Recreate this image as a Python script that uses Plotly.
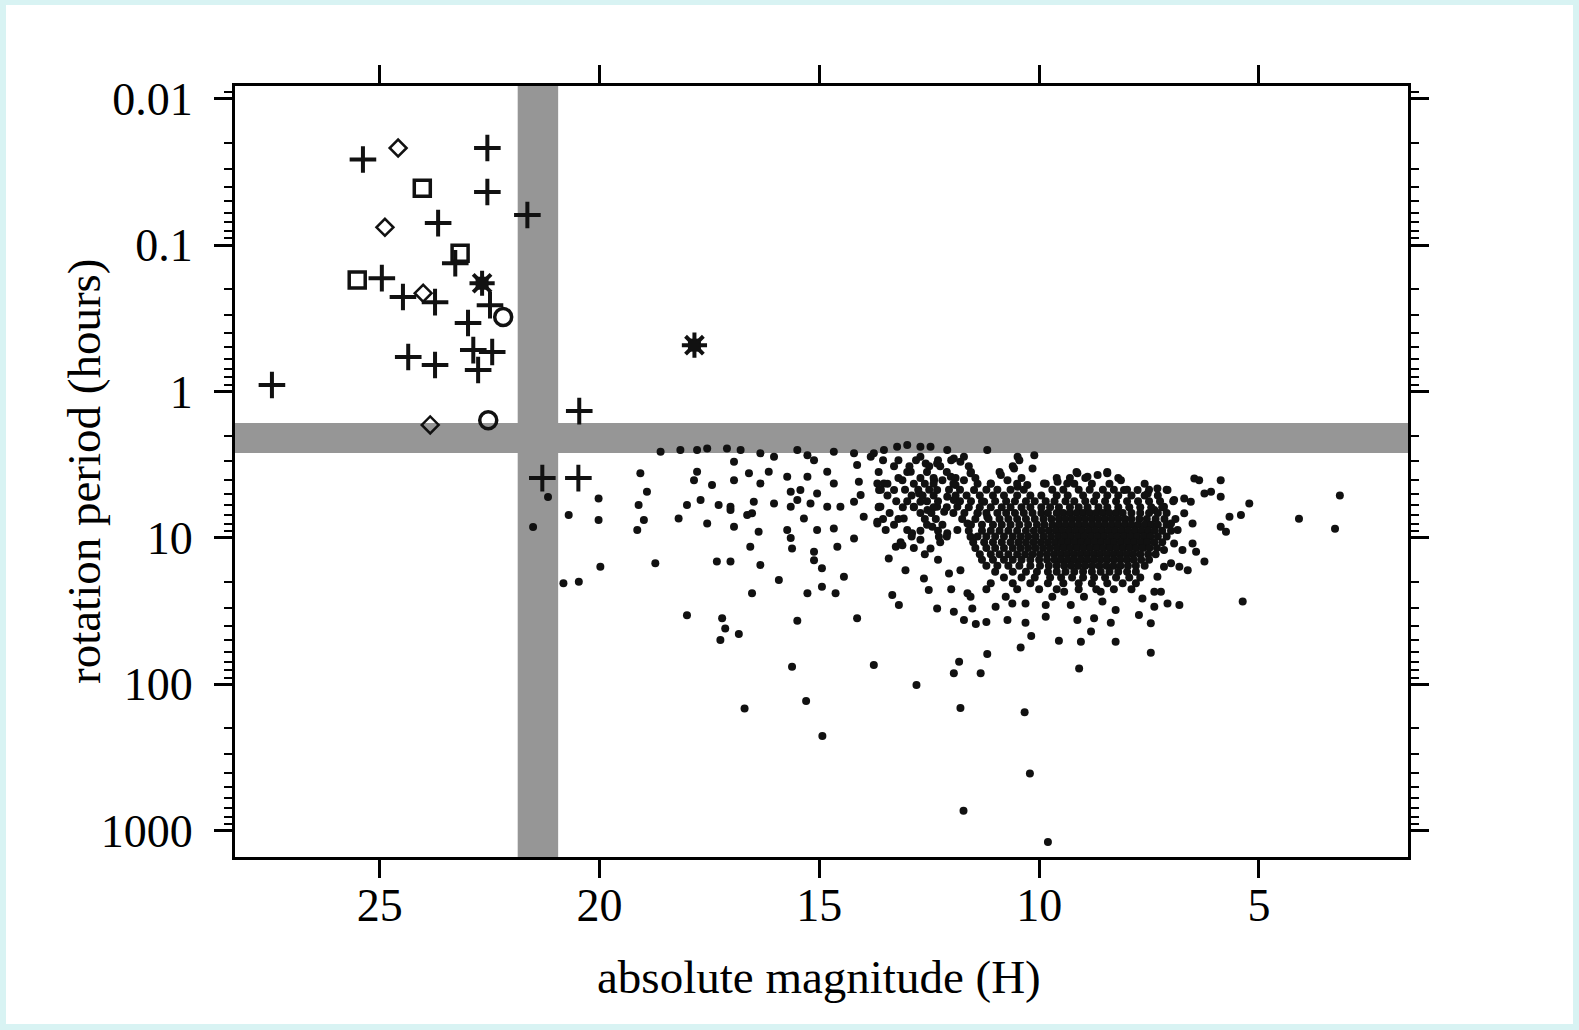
import plotly.graph_objects as go

# ---------------- data (absolute magnitude H, rotation period P in hours) ----------------
plus_H = [25.38, 22.55, 22.55, 23.67, 21.64, 23.28, 24.95, 24.47, 23.74, 22.49, 22.99,
          22.87, 22.44, 22.76, 24.35, 23.74, 27.45, 20.46, 20.48, 21.30]
plus_P = [0.026, 0.0217, 0.0434, 0.0707, 0.0622, 0.133, 0.168, 0.226, 0.245, 0.257, 0.340,
          0.521, 0.537, 0.713, 0.581, 0.659, 0.903, 1.36, 3.9, 3.9]

star_H = [22.67, 17.84]
star_P = [0.182, 0.482]

diam_H = [24.58, 24.88, 24.01, 23.85]
diam_P = [0.0217, 0.0755, 0.213, 1.69]

sq_H = [24.03, 25.51, 23.17]
sq_P = [0.0408, 0.173, 0.1135]

circ_H = [22.19, 22.53]
circ_P = [0.310, 1.57]

# scattered asteroids (H, P)
sparse_dots = [
    (18.61, 2.58), (18.16, 2.51), (17.78, 2.51), (17.55, 2.45), (17.10, 2.45), (16.79, 2.51),
    (16.34, 2.64), (16.03, 2.79), (15.50, 2.51), (15.27, 2.72), (15.12, 2.94), (14.67, 2.58),
    (14.21, 2.64), (13.83, 2.79), (16.94, 3.01), (19.07, 3.62), (17.78, 3.53), (17.85, 4.03),
    (17.44, 4.35), (16.94, 4.03), (16.60, 3.62), (16.34, 4.24), (16.15, 3.53), (15.73, 3.82),
    (15.27, 3.82), (15.65, 4.83), (15.43, 4.71), (15.05, 4.97), (14.67, 4.24), (14.82, 3.53),
    (14.10, 4.13), (14.14, 3.18), (13.68, 4.24), (18.92, 4.83), (20.02, 5.37), (19.11, 5.96),
    (18.01, 5.96), (17.70, 5.51), (17.29, 5.96), (17.02, 6.12), (16.49, 5.66), (16.03, 5.81),
    (15.65, 6.12), (15.50, 5.51), (15.20, 5.81), (14.82, 6.12), (14.52, 6.12), (14.21, 5.66),
    (14.06, 5.09), (13.64, 6.12), (20.70, 6.98), (20.02, 7.55), (18.99, 7.55), (19.14, 8.83),
    (18.20, 7.35), (17.55, 7.96), (17.02, 6.44), (16.94, 8.38), (16.64, 6.98), (16.53, 6.79),
    (16.38, 9.06), (15.73, 8.83), (15.65, 10.0), (15.35, 7.35), (15.05, 8.83), (14.67, 8.61),
    (14.21, 10.1), (13.99, 7.16), (13.68, 7.96), (16.57, 11.5), (15.62, 11.8), (15.12, 12.4),
    (15.12, 14.2), (14.59, 11.5), (19.98, 15.7), (18.73, 14.9), (17.33, 14.5), (17.02, 14.5),
    (16.34, 15.3), (15.92, 19.4), (14.94, 16.1), (14.44, 18.4), (20.82, 20.4), (20.47, 19.9),
    (16.53, 23.9), (15.27, 23.9), (14.94, 21.5), (14.63, 23.9), (18.01, 33.7), (17.21, 35.4),
    (17.14, 41.5), (17.25, 49.8), (16.83, 45.3), (15.50, 36.7), (14.14, 35.4), (15.62, 75.9),
    (13.76, 73.8), (21.51, 8.4), (21.17, 5.26),
    (16.70, 146), (15.30, 130), (14.93, 225), (12.79, 101), (11.79, 145), (10.33, 155),
    (10.21, 406), (11.72, 730), (9.80, 1194),
    (13.19, 28.7), (12.32, 30.3), (11.94, 31.9), (11.52, 30.3), (10.99, 29.5), (10.61, 28.0),
    (10.31, 28.0), (9.85, 28.7), (9.28, 28.7), (8.56, 27.2), (8.26, 31.0), (7.73, 33.6),
    (7.38, 29.5), (7.08, 28.0), (6.81, 28.7), (5.37, 27.2), (11.71, 36.4), (11.44, 38.7),
    (11.20, 37.5), (10.72, 36.4), (10.31, 37.9), (9.85, 34.5), (9.13, 36.4), (8.75, 35.4),
    (8.37, 37.9), (7.46, 38.3), (11.82, 70.0), (11.18, 62.1), (10.18, 46.8), (9.55, 50.3),
    (9.05, 51.2), (8.82, 43.6), (8.26, 51.2), (7.46, 60.8), (10.42, 55.9), (9.09, 77.8),
    (11.94, 84.1), (11.33, 84.1),
    (4.09, 7.38), (3.27, 8.65), (3.16, 5.13),
    (5.22, 5.81), (5.41, 6.98), (5.67, 7.16), (5.87, 8.38), (5.75, 9.06), (5.87, 4.03),
    (5.87, 5.22), (6.24, 4.96), (6.09, 4.83), (6.47, 3.92), (6.36, 4.03), (6.24, 14.5),
    (6.43, 12.4), (6.51, 10.9), (6.51, 7.96), (6.70, 6.79), (6.70, 5.37), (6.55, 5.66),
    (12.51, 22.7), (12.62, 18.9), (13.04, 16.6), (13.42, 13.8), (12.05, 17.5), (11.79, 16.6),
    (11.63, 23.9), (11.56, 25.2), (10.76, 25.2), (9.70, 25.2), (9.43, 23.3), (8.98, 25.2),
    (8.60, 23.3), (7.65, 25.9), (7.38, 23.3), (7.23, 23.3), (13.34, 24.5),
    (13.68, 7.74), (13.49, 8.83), (13.64, 4.71), (13.53, 4.24), (13.30, 4.71), (13.61, 6.12),
    (13.08, 7.35), (13.00, 8.83), (13.26, 11.5), (13.11, 11.2), (12.89, 9.30), (12.70, 10.3),
    (12.47, 11.8), (12.28, 9.81), (12.85, 6.12), (12.70, 5.66), (12.54, 6.44), (12.32, 6.12),
    (12.16, 6.62), (11.86, 6.12), (11.94, 5.51), (12.32, 4.71), (12.20, 4.03), (12.01, 3.82),
    (11.90, 4.35), (11.71, 4.03), (11.48, 4.71), (11.56, 3.62), (11.79, 3.01), (11.94, 2.86),
    (12.70, 2.79), (12.58, 3.10), (12.32, 3.10), (12.92, 3.53), (13.11, 4.03), (12.39, 4.03),
    (12.09, 5.22), (12.73, 4.96), (11.40, 6.79), (11.63, 7.96), (11.86, 8.83), (11.56, 9.81),
    (12.09, 9.30), (12.43, 8.38), (11.18, 7.16), (11.25, 5.66), (11.10, 4.24), (10.87, 3.72),
    (10.72, 4.03), (10.49, 4.47), (10.27, 4.35), (10.57, 3.35), (10.15, 3.35), (10.49, 2.79),
    (10.11, 2.72), (9.89, 4.24), (9.58, 4.13), (9.36, 4.24), (9.13, 3.62), (8.90, 3.82),
    (8.67, 3.72), (8.45, 3.62), (8.14, 4.03), (8.07, 4.71), (7.76, 4.71), (7.53, 4.96),
    (7.31, 4.59), (7.08, 4.71), (6.93, 5.51), (7.16, 6.12), (7.38, 6.44), (7.00, 7.96),
    (6.85, 8.83), (6.93, 10.9), (7.16, 12.1), (6.74, 12.1), (7.00, 14.9), (7.16, 15.7),
    (6.81, 15.7), (6.62, 16.6), (7.31, 18.4),
    (13.76, 2.64), (13.53, 2.51), (13.23, 2.38), (13.00, 2.32), (12.70, 2.38), (12.47, 2.38),
    (12.09, 2.51), (11.71, 2.79), (11.18, 2.51),
]

# dense main-belt cluster, read row by row: (P, [H values along the row])
core_rows = [
    (2.95, [13.55, 13.2, 12.8, 12.3, 12.0, 10.45]),
    (3.24, [13.3, 12.95, 12.5, 12.25, 11.6, 10.6]),
    (3.55, [13.65, 13.0, 12.55, 12.1, 11.55, 10.9, 9.15, 8.45]),
    (3.89, [13.2, 12.7, 12.4, 11.9, 11.45, 10.4, 9.6, 9.3, 8.95, 8.2]),
    (4.27, [13.45, 12.85, 12.6, 12.4, 11.95, 11.4, 11.1, 10.5, 9.85, 9.2, 8.8, 8.4, 7.6]),
    (4.68, [13.6, 13.05, 12.75, 12.5, 12.05, 11.8, 11.2, 10.95, 10.65, 10.35, 9.7, 9.45, 9.1,
            8.85, 8.55, 8.3, 8.0, 7.5, 7.1]),
    (5.13, [13.45, 12.9, 12.65, 12.4, 11.9, 11.65, 11.35, 11.05, 10.8, 10.5, 10.2, 9.95, 9.6,
            9.35, 9.0, 8.7, 8.45, 8.2, 7.9, 7.6, 7.3]),
    (5.62, [13.25, 13.0, 12.55, 12.3, 11.8, 11.55, 11.3, 11.0, 10.75, 10.55, 10.3, 10.1, 9.85,
            9.65, 9.4, 9.2, 8.95, 8.75, 8.5, 8.25, 8.0, 7.75, 7.5, 7.25, 6.95]),
    (6.17, [13.65, 13.1, 12.85, 12.4, 12.1, 11.6, 11.35, 11.1, 10.85, 10.65, 10.4, 10.2, 9.95,
            9.75, 9.55, 9.3, 9.1, 8.9, 8.65, 8.45, 8.2, 7.95, 7.7, 7.45, 7.2]),
    (6.76, [13.4, 12.7, 12.45, 11.95, 11.7, 11.4, 11.2, 10.95, 10.75, 10.55, 10.35, 10.15, 9.95,
            9.8, 9.6, 9.45, 9.3, 9.15, 9.0, 8.85, 8.7, 8.55, 8.4, 8.25, 8.1, 7.9, 7.7, 7.5,
            7.3, 7.1]),
    (7.41, [13.55, 13.2, 12.6, 12.35, 11.75, 11.45, 11.15, 10.9, 10.7, 10.5, 10.3, 10.1, 9.9,
            9.72, 9.55, 9.4, 9.25, 9.1, 8.95, 8.8, 8.65, 8.5, 8.35, 8.2, 8.05, 7.9, 7.72,
            7.55, 7.35, 7.15, 6.9]),
    (8.13, [13.3, 12.55, 12.2, 11.55, 11.3, 11.05, 10.85, 10.65, 10.45, 10.25, 10.05, 9.88,
            9.7, 9.55, 9.4, 9.25, 9.1, 8.95, 8.8, 8.65, 8.5, 8.35, 8.2, 8.05, 7.9, 7.75, 7.6,
            7.45, 7.3, 7.1]),
    (8.91, [12.7, 12.3, 11.6, 11.3, 11.1, 10.9, 10.7, 10.5, 10.3, 10.12, 9.95, 9.78, 9.62,
            9.47, 9.32, 9.17, 9.02, 8.87, 8.72, 8.57, 8.42, 8.27, 8.12, 7.97, 7.82, 7.67, 7.52,
            7.37, 7.2, 7.0]),
    (9.77, [12.9, 12.1, 11.4, 11.2, 11.0, 10.8, 10.6, 10.42, 10.25, 10.08, 9.9, 9.73, 9.57,
            9.42, 9.27, 9.12, 8.97, 8.82, 8.67, 8.52, 8.37, 8.22, 8.07, 7.92, 7.77, 7.62, 7.47,
            7.3, 7.1]),
    (10.7, [13.15, 12.25, 11.5, 11.25, 11.05, 10.85, 10.65, 10.47, 10.3, 10.13, 9.96, 9.8,
            9.64, 9.49, 9.34, 9.19, 9.04, 8.89, 8.74, 8.59, 8.44, 8.29, 8.14, 7.99, 7.84, 7.69,
            7.54, 7.38, 7.2]),
    (11.7, [12.85, 11.45, 11.2, 11.0, 10.8, 10.6, 10.42, 10.25, 10.08, 9.91, 9.75, 9.59, 9.44,
            9.29, 9.14, 8.99, 8.84, 8.69, 8.54, 8.39, 8.24, 8.09, 7.94, 7.79, 7.64, 7.49, 7.32]),
    (12.9, [12.6, 11.35, 11.1, 10.9, 10.7, 10.5, 10.32, 10.15, 9.98, 9.82, 9.66, 9.51, 9.36,
            9.21, 9.06, 8.91, 8.76, 8.61, 8.46, 8.31, 8.16, 8.01, 7.86, 7.7, 7.52, 7.35]),
    (14.1, [12.3, 11.3, 11.05, 10.8, 10.6, 10.4, 10.2, 10.0, 9.82, 9.65, 9.5, 9.35, 9.2, 9.05,
            8.9, 8.75, 8.6, 8.45, 8.3, 8.15, 8.0, 7.85, 7.68, 7.5]),
    (15.5, [11.2, 10.95, 10.7, 10.45, 10.2, 9.98, 9.78, 9.6, 9.43, 9.27, 9.11, 8.95, 8.79,
            8.63, 8.47, 8.31, 8.15, 7.98, 7.8, 7.6]),
    (17.0, [11.0, 10.6, 10.3, 10.05, 9.8, 9.6, 9.4, 9.2, 9.0, 8.8, 8.6, 8.4, 8.2, 8.0, 7.8]),
    (18.6, [10.8, 10.4, 10.1, 9.75, 9.5, 9.25, 9.0, 8.75, 8.5, 8.25, 7.95, 7.7]),
    (20.4, [11.1, 10.6, 10.2, 9.8, 9.45, 9.1, 8.8, 8.45, 8.1, 7.8]),
    (22.4, [12.0, 11.2, 10.5, 10.0, 9.6, 9.1, 8.7, 8.3, 7.9]),
]

y_tick_vals = [0.01, 0.1, 1, 10, 100, 1000]
y_tick_text = ["0.01", "0.1", "1", "10", "100", "1000"]
x_tick_vals = [25, 20, 15, 10, 5]
x_tick_text = ["25", "20", "15", "10", "5"]

# spin-barrier bands
band_H = (21.86, 20.94)
band_P = (1.64, 2.63)

# ---------------- build ----------------
dot_H = [h for h, p in sparse_dots] + [h for p, hs in core_rows for h in hs]
dot_P = [p for h, p in sparse_dots] + [p for p, hs in core_rows for h in hs]

FONT = "Liberation Serif, Times New Roman, serif"
INK = "#111111"
fig = go.Figure()

fig.add_trace(go.Scatter(x=dot_H, y=dot_P, mode="markers",
                         marker=dict(symbol="circle", size=8, color=INK, line=dict(width=0))))
fig.add_trace(go.Scatter(x=plus_H, y=plus_P, mode="markers",
                         marker=dict(symbol="cross-thin", size=19, color=INK,
                                     line=dict(width=4, color=INK))))
fig.add_trace(go.Scatter(x=diam_H, y=diam_P, mode="markers",
                         marker=dict(symbol="diamond-open", size=13, color=INK,
                                     line=dict(width=2.5, color=INK))))
fig.add_trace(go.Scatter(x=sq_H, y=sq_P, mode="markers",
                         marker=dict(symbol="square-open", size=16, color=INK,
                                     line=dict(width=3.5, color=INK))))
fig.add_trace(go.Scatter(x=circ_H, y=circ_P, mode="markers",
                         marker=dict(symbol="circle-open", size=17, color=INK,
                                     line=dict(width=3.5, color=INK))))
fig.add_trace(go.Scatter(x=star_H, y=star_P, mode="markers",
                         marker=dict(symbol="square", size=13, color=INK, line=dict(width=0))))
fig.add_trace(go.Scatter(x=star_H, y=star_P, mode="markers",
                         marker=dict(symbol="asterisk-open", size=21, color=INK,
                                     line=dict(width=4, color=INK))))

L, R, T, B = 235, 171, 86, 173
W, H = 1579, 1030
pw, ph = W - L - R, H - T - B

def px(xp):
    return (xp - L) / pw

def py(yp):
    return (H - B - yp) / ph

BAND = "#969696"
shapes = [
    dict(type="rect", xref="paper", yref="paper", x0=px(6), x1=px(1573), y0=py(1024), y1=py(5),
         fillcolor="white", line=dict(width=0), layer="below"),
    dict(type="rect", xref="x", yref="paper", x0=band_H[0], x1=band_H[1], y0=0, y1=1,
         fillcolor=BAND, line=dict(width=0), layer="below"),
    dict(type="rect", xref="paper", yref="y", x0=0, x1=1, y0=band_P[0], y1=band_P[1],
         fillcolor=BAND, line=dict(width=0), layer="below"),
]

minor_vals = [m * 10.0 ** k for k in range(-3, 4) for m in range(2, 10)]

fig.update_layout(
    width=W, height=H,
    margin=dict(l=L, r=R, t=T, b=B, pad=0),
    paper_bgcolor="#d8f3f3",
    plot_bgcolor="white",
    showlegend=False,
    shapes=shapes,
    font=dict(family=FONT, color="black", size=46),
    xaxis=dict(range=[28.29, 1.61], tickmode="array", tickvals=x_tick_vals, ticktext=x_tick_text,
               ticks="outside", ticklen=18, tickwidth=2.5, tickcolor="black",
               showline=True, linewidth=3, linecolor="black", mirror="allticks",
               showgrid=False, zeroline=False,
               tickfont=dict(family=FONT, size=46, color="black"), ticklabelstandoff=-12),
    yaxis=dict(type="log", range=[3.179, -2.087], tickmode="array", tickvals=y_tick_vals,
               ticktext=y_tick_text,
               ticks="outside", ticklen=18, tickwidth=2.5, tickcolor="black",
               minor=dict(tickmode="array", tickvals=minor_vals, ticks="outside", ticklen=8,
                          tickwidth=2, tickcolor="black", showgrid=False),
               showline=True, linewidth=3, linecolor="black", mirror="allticks",
               showgrid=False, zeroline=False,
               tickfont=dict(family=FONT, size=46, color="black"), ticklabelstandoff=12),
    annotations=[
        dict(text="absolute magnitude (H)", xref="paper", yref="paper", x=px(819), y=py(977),
             xanchor="center", yanchor="middle", showarrow=False,
             font=dict(family=FONT, size=47, color="black")),
        dict(text="rotation period (hours)", xref="paper", yref="paper", x=px(84), y=py(471),
             xanchor="center", yanchor="middle", textangle=-90, showarrow=False,
             font=dict(family=FONT, size=47, color="black")),
    ],
)

fig.write_html("out.html")
